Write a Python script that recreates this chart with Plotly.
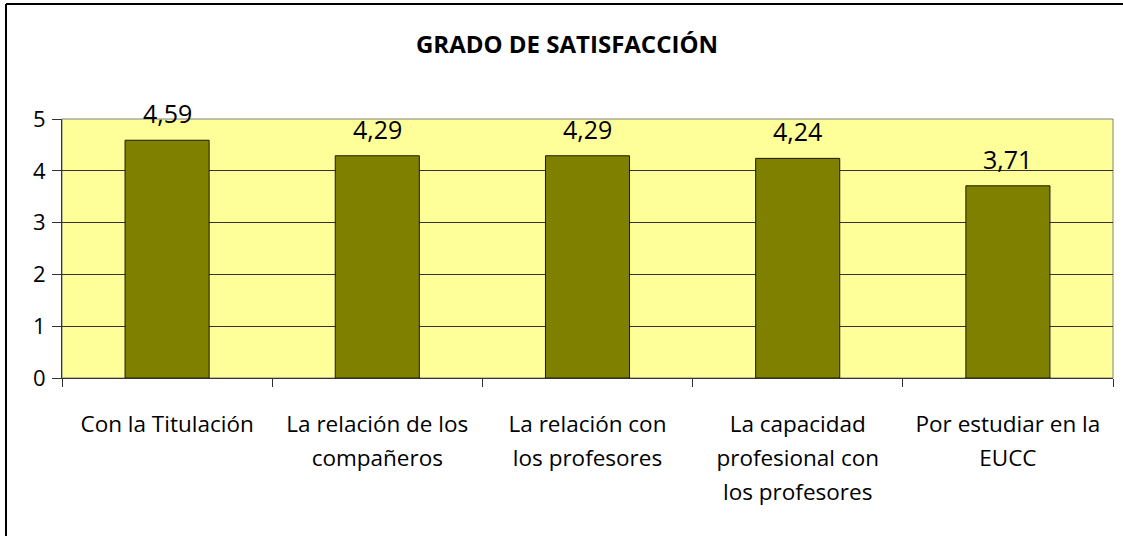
import plotly.graph_objects as go

categories = [
    "Con la Titulación",
    "La relación de los<br>compañeros",
    "La relación con<br>los profesores",
    "La capacidad<br>profesional con<br>los profesores",
    "Por estudiar en la<br>EUCC",
]
values = [4.59, 4.29, 4.29, 4.24, 3.71]
value_labels = ["4,59", "4,29", "4,29", "4,24", "3,71"]
y_ticks = [0, 1, 2, 3, 4, 5]

FONT = "'Open Sans', Lato, sans-serif"

def styled(label):
    return "<br>".join('<span style="font-size:22.5px">%s</span>' % p for p in label.split("<br>"))

fig = go.Figure()
fig.add_trace(go.Bar(
    x=categories,
    y=values,
    width=0.4,
    marker=dict(color="#808000", line=dict(color="#1a1a00", width=1)),
    hoverinfo="skip",
))

for c, v, t in zip(categories, values, value_labels):
    fig.add_annotation(x=c, y=v, text=t, showarrow=False, yshift=27,
                       yanchor="middle", font=dict(family=FONT, size=25, color="#000"))

fig.update_layout(
    width=1123, height=536,
    margin=dict(l=62, r=10, t=119, b=158),
    paper_bgcolor="white",
    plot_bgcolor="#FFFF99",
    showlegend=False,
    title=dict(text="<b>GRADO DE SATISFACCIÓN</b>", x=567 / 1123, xref="container",
               y=1 - 45 / 536, yref="container", yanchor="middle", xanchor="center",
               font=dict(family=FONT, size=24, color="#000")),
    font=dict(family=FONT, color="#000"),
)
fig.update_xaxes(
    type="category",
    tickvals=categories,
    ticktext=[styled(c) for c in categories],
    tickson="boundaries",
    ticks="outside", ticklen=8, tickcolor="#333", tickwidth=1,
    showline=True, linecolor="#333", linewidth=1,
    tickfont=dict(family=FONT, size=26, color="#000"),
    ticklabelstandoff=22,
    showgrid=False,
    range=[-0.5, 4.5],
)
fig.update_yaxes(
    range=[0, 5],
    tickvals=y_ticks,
    ticks="outside", ticklen=9, tickcolor="#333",
    showline=True, linecolor="#333", linewidth=1,
    gridcolor="#333", gridwidth=1,
    tickfont=dict(family=FONT, size=22, color="#000"),
    ticklabelstandoff=2,
    zeroline=False,
)
# plot area border (top/right gray)
fig.add_shape(type="rect", xref="paper", yref="paper", x0=0, x1=1, y0=0, y1=1,
              line=dict(color="#808080", width=1), layer="below")
# outer chart frame (left and top edges visible)
fx = (6 - 62) / 1051
fy = (378 - 4) / 259
fig.add_shape(type="line", xref="paper", yref="paper",
              x0=fx, x1=fx, y0=(378 - 536) / 259, y1=fy,
              line=dict(color="#000", width=2))
fig.add_shape(type="line", xref="paper", yref="paper",
              x0=fx, x1=(1123 - 62) / 1051, y0=fy, y1=fy,
              line=dict(color="#000", width=2))

fig.write_html("out.html", config={"displayModeBar": False},
               post_script="document.body.style.margin='0';"
                           "document.body.style.overflow='hidden';"
                           "document.documentElement.style.overflow='hidden';")
